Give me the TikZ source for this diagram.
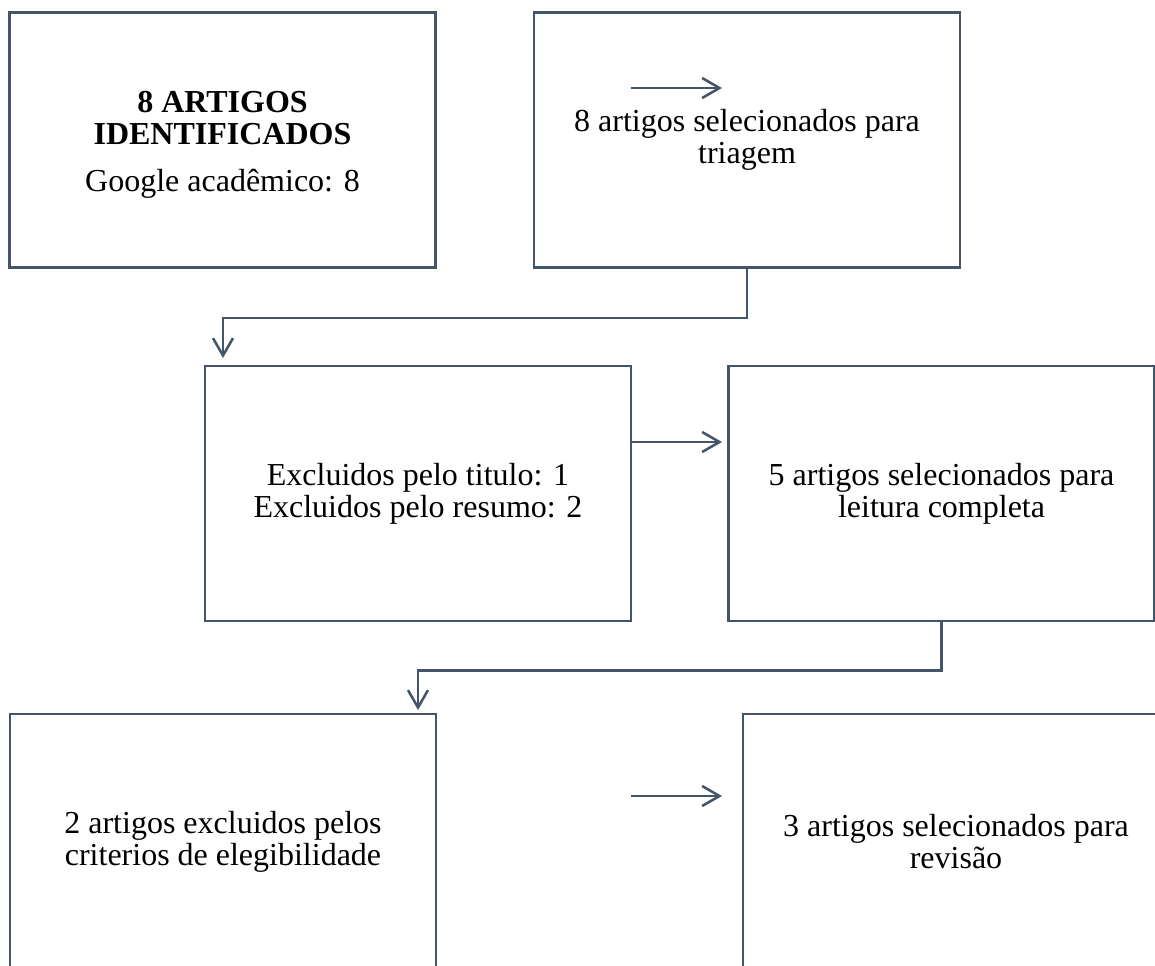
\documentclass[tikz,border=0pt]{standalone}
\usepackage{fontspec}
\setmainfont{Liberation Serif}
\usepackage{tikz}
\usetikzlibrary{arrows.meta,shapes}
\definecolor{linha}{HTML}{44546A}
\tikzstyle{caixa}=[rectangle,draw=linha,line width=1.9pt,align=center,inner sep=0pt,minimum width=319.5pt,minimum height=191.5pt,font=\fontsize{24}{24}\selectfont]
\tikzstyle{seta} = [draw=linha,line width=1.9pt,-{Straight Barb[length=13pt,width=15pt]}]

\begin{document}
\begin{tikzpicture}[x=0.75pt,y=-0.75pt]
        \clip (0,0) rectangle (1155,965);
        \node[caixa] (ident) at (222.5,140) {\rule{0pt}{23pt}\textbf{8 ARTIGOS}\\\textbf{IDENTIFICADOS}\\[11pt]Google acadêmico: 8};
        \node[caixa] (triagem) at (747,140) {8 artigos selecionados para\\triagem};
        \node[caixa] (excl) at (418,493.5) {Excluidos pelo titulo: 1\\Excluidos pelo resumo: 2};
        \node[caixa] (leitura) at (941.5,493.5) {5 artigos selecionados para\\leitura completa};
        \node[caixa] (criterios) at (223,841.5) {2 artigos excluidos pelos\\criterios de elegibilidade};
        \node[caixa] (revisao) at (956,841.5) {3 artigos selecionados para\\revisão};
        \coordinate (t1) at (223,358);
        \coordinate (t2) at (418,710);
        \coordinate (a1) at (631,88);
        \coordinate (b1) at (722,88);
        \coordinate (a2) at (722,442);
        \coordinate (a3) at (631,796);
        \coordinate (b3) at (722,796);
        \draw[seta] (a1) to (b1);
        \draw[seta] (triagem.south) -- ++(0,49) -| (t1);
        \draw[seta] (excl.east |- a2) to (a2);
        \draw[seta] (leitura.south) -- ++(0,48) -| (t2);
        \draw[seta] (a3) to (b3);
      \end{tikzpicture}
\end{document}
